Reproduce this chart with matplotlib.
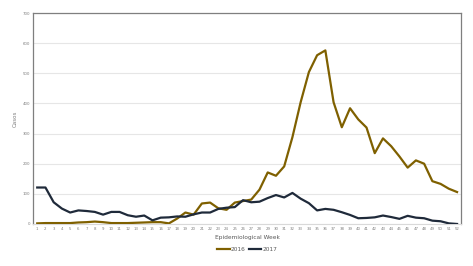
import numpy as np
import matplotlib.pyplot as plt

weeks = list(range(1, 53))

cases_2016 = [2, 3, 3, 3, 3, 5, 6, 8, 6, 3,
              3, 3, 4, 5, 6, 6, 2, 18, 38, 31,
              68, 71, 52, 47, 71, 76, 81, 114, 171, 160,
              191, 288, 404, 504, 560, 576, 404, 321, 384, 347,
              320, 235, 284, 258, 224, 187, 211, 200, 142, 133,
              117, 106]

cases_2017 = [121, 121, 72, 51, 38, 45, 43, 40, 31, 40,
              40, 29, 24, 28, 12, 21, 22, 25, 24, 32,
              38, 38, 50, 54, 56, 79, 72, 74, 86, 96,
              88, 103, 84, 69, 45, 50, 47, 39, 30, 19,
              20, 22, 28, 23, 17, 27, 21, 19, 11, 9,
              2, 0]

fig = plt.figure(figsize=(4.73, 2.66), dpi=100)
ax = fig.add_axes([0.07, 0.158, 0.905, 0.793])

ax.plot(weeks, cases_2016, color="#7f6000", linewidth=1.6, label="2016", zorder=3)
ax.plot(weeks, cases_2017, color="#1f2a3a", linewidth=1.6, label="2017", zorder=3)

ax.set_xlim(0.5, 52.5)
ax.set_ylim(0, 700)
ax.set_yticks(range(0, 701, 100))
ax.set_xticks(weeks)
ax.tick_params(axis="both", labelsize=2.8, colors="#7f7f7f", length=0, pad=2)
ax.grid(axis="y", color="#e6e6e6", linewidth=0.8, zorder=0)

for side in ["left", "top", "right"]:
    ax.spines[side].set_color("#7f7f7f")
    ax.spines[side].set_linewidth(0.9)
ax.spines["bottom"].set_color("#d9d9d9")
ax.spines["bottom"].set_linewidth(0.8)

ax.set_ylabel("Casos", fontsize=4, color="#7f7f7f", labelpad=4)
ax.set_xlabel("Epidemiological Week", fontsize=4.2, color="#595959", labelpad=3)

ax.legend(loc="upper center", bbox_to_anchor=(0.5, -0.085), ncol=2, frameon=False,
          fontsize=4.2, handlelength=2.2, columnspacing=0.5, handletextpad=0.2,
          labelcolor="#595959")

fig.savefig("out.png", dpi=100)
